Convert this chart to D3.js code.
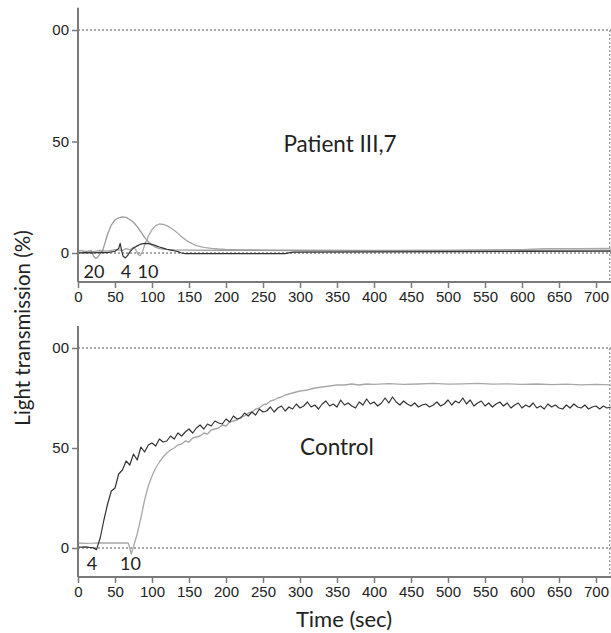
<!DOCTYPE html>
<html><head><meta charset="utf-8">
<script src="https://cdn.jsdelivr.net/npm/d3@7"></script>
<style>body{margin:0;background:#fff}svg{display:block}</style>
</head><body>
<script>
// ---------- data ----------
const xTicks = [0,50,100,150,200,250,300,350,400,450,500,550,600,650,700];
const yTickVals = [0,50,100];
const yTickLabels = ["0","50","00"];

// Patient III,7 (top panel) : [time, %]
const patient20 = [[0,0.5],[5,0.2],[10,0.8],[15,0.3],[18,1.2],[21,-1.5],[24,-2.4],[27,-1.8],[30,-0.2],[33,0.8],[36,4],[40,8.5],[45,12.5],[50,14.8],[55,15.8],[60,16.2],[65,16],[70,15],[75,13.8],[80,11.8],[85,9.5],[90,7],[95,5],[100,3.5],[105,2.6],[110,2],[120,1.6],[130,1.4],[150,1.3],[200,1.2],[300,1.1],[400,1],[500,1.1],[600,1.2],[720,1.3]];
const patient4 = [[0,0],[10,0.2],[20,0.1],[30,0.3],[40,0.2],[50,0.8],[55,2],[57,4.3],[59,1],[61,-1.5],[64,-2.2],[67,-1.2],[70,0.5],[75,2.2],[80,3.2],[85,4],[90,4.3],[95,4.2],[100,3.9],[105,3.3],[110,2.7],[115,2.2],[120,1.7],[125,1.3],[130,1],[135,0.6],[140,0],[145,-0.3],[200,-0.3],[280,-0.3],[290,0.4],[400,0.5],[500,0.6],[600,0.7],[720,0.8]];
const patient10 = [[0,0.8],[5,1.2],[10,0.4],[15,1],[20,0.6],[30,1.2],[40,0.8],[50,1.5],[60,1.2],[65,2],[70,1.4],[75,2.6],[78,1.5],[81,-0.5],[84,-1.2],[87,0.5],[90,3.5],[95,7.5],[100,10.5],[105,12.3],[110,13],[115,12.8],[120,12.3],[125,11.3],[130,10.2],[135,8.8],[140,7.3],[145,6],[150,4.9],[160,3.3],[170,2.5],[180,2.1],[190,1.8],[200,1.6],[220,1.4],[260,1.3],[300,1.3],[400,1.2],[500,1.3],[600,1.5],[630,1.9],[680,2],[720,2.1]];

// Control (bottom panel): agonist 4, sampled every 5 s from 0 s
const control4 = [0.5,0.4,0.6,0.3,0.2,-0.8,5,14,22,28.5,30,37,39,43.5,41.5,47,44,50.5,48,51.5,
52.5,51,54.5,53,53.5,56,54.5,57.5,56,58,59.5,57.5,60,61.5,59.5,62,61,63.5,62.5,62,
64.5,63,66,64.5,65,67.5,66,68,66.5,69.5,68,68.5,70.5,68,70,71,68.5,70.5,69.5,72,
70,71,73,70.5,71.5,69.5,72,73.5,71,72,70.5,74,71.5,72.5,71,70,73,71.5,74.5,72,
73,71,72.5,75,72.5,75.5,73,71.5,73.5,72,71,72.5,70.5,71.5,72,70.5,71.5,73,71,72,
74,71.5,73.5,72.5,75,72,74,71,72.5,73.5,71,72.5,70.5,72,73,71,72.5,70,71.5,72.5,
70,71.5,70.5,72.5,70,71,69.5,72,70.5,71.5,70,69.5,71.5,70,72,70.5,70,71.5,69.5,70.5,
71,69.5,71,70,70.5];
const control10 = [[0,2.5],[10,2.3],[20,2.4],[30,2.6],[40,2.5],[50,2.6],[60,2.5],[68,2.6],[72,-3],[76,2],[80,7],[85,15],[90,24],[95,31],[100,36],[105,40],[110,43],[115,45.5],[120,47.5],[125,49],[130,50],[135,51.5],[140,52],[145,53.5],[150,53],[155,55],[160,55.5],[165,56],[170,57.5],[175,57],[180,59],[185,59.5],[190,60],[195,61.5],[200,61],[205,63],[210,63.5],[215,64],[220,65.5],[225,66],[230,67.5],[235,68],[240,69.5],[245,70],[250,71.5],[255,72],[260,73.5],[265,74],[270,75],[275,75.5],[280,76.5],[290,77.5],[300,78.5],[310,79],[320,80],[330,80.5],[340,81],[350,81.5],[360,81.5],[370,82],[380,81.5],[390,82],[400,81.8],[420,82.2],[440,81.8],[460,82],[480,82.3],[500,81.9],[520,82.1],[540,82.3],[560,81.9],[580,82.1],[600,81.8],[620,82],[640,81.7],[660,81.9],[680,81.6],[700,81.8],[720,81.6]];

// ---------- drawing ----------
const W = 611, H = 633;
const svg = d3.select("body").append("svg").attr("width", W).attr("height", H);
const x = d3.scaleLinear().domain([0,720]).range([78,610.8]);
const yTop = d3.scaleLinear().domain([0,100]).range([253,30]);
const yBot = d3.scaleLinear().domain([0,100]).range([548,348]);
const axisCol = "#7a7a7a";
const tickFont = "'Liberation Sans', Arial, sans-serif";
const txtFont = "Lato, 'Open Sans', sans-serif";

function panel(y, yMin, yMax, series, labels, title, titleX, titleY) {
  const g = svg.append("g");
  [0,100].forEach(v => g.append("line").attr("x1", x(0)).attr("x2", W).attr("y1", y(v)).attr("y2", y(v))
    .attr("stroke","#555").attr("stroke-width",1).attr("stroke-dasharray","2,2"));
  g.append("line").attr("x1", x(720)-1).attr("x2", x(720)-1).attr("y1", y(100)).attr("y2", y(yMin))
    .attr("stroke","#777").attr("stroke-width",1).attr("stroke-dasharray","2,2");
  series.forEach(s => {
    g.append("path").datum(s.data)
      .attr("fill","none").attr("stroke", s.color).attr("stroke-width", s.w)
      .attr("stroke-linejoin","round")
      .attr("d", d3.line().x(d => x(d[0])).y(d => y(d[1])));
  });
  const xa = g.append("g").attr("transform", `translate(0,${y(yMin)})`)
    .call(d3.axisBottom(x).tickValues(xTicks).tickSize(6).tickPadding(3).tickFormat(d3.format("d")));
  xa.select(".domain").attr("d", `M${x(0)},0H${W}`).attr("stroke", axisCol).attr("stroke-width",2);
  xa.selectAll(".tick line").attr("stroke", axisCol).attr("stroke-width",1.5);
  xa.selectAll(".tick text").attr("font-family", tickFont).attr("font-size", 15).attr("fill","#222");
  const ya = g.append("g").attr("transform", `translate(${x(0)},0)`)
    .call(d3.axisLeft(y).tickValues(yTickVals).tickSize(6).tickPadding(3).tickFormat((d,i) => yTickLabels[i]));
  ya.select(".domain").attr("d", `M0,${y(yMax)}V${y(yMin)}`).attr("stroke", axisCol).attr("stroke-width",2);
  ya.selectAll(".tick line").attr("stroke", axisCol).attr("stroke-width",1.5);
  ya.selectAll(".tick text").attr("font-family", tickFont).attr("font-size", 15).attr("fill","#222");
  labels.forEach(l => g.append("text").attr("x", x(l.t)).attr("y", l.y).attr("text-anchor","middle")
    .attr("font-family", txtFont).attr("font-size", 18).attr("fill","#222").text(l.text));
  g.append("text").attr("x", titleX).attr("y", titleY).attr("text-anchor","middle")
    .attr("font-family", txtFont).attr("font-size", 22.5).attr("fill","#222").text(title);
}

panel(yTop, -13, 110, [
  {data: patient10, color:"#a8a8a8", w:1.3},
  {data: patient20, color:"#999", w:1.3},
  {data: patient4, color:"#333", w:1.2}
], [{t:21.6,text:"20",y:278},{t:65,text:"4",y:278},{t:94.5,text:"10",y:278}], "Patient III,7", 340, 152);

panel(yBot, -14.5, 111, [
  {data: control10, color:"#a8a8a8", w:1.3},
  {data: control4.map((v,i) => [i*5, v]), color:"#333", w:1.2}
], [{t:19,text:"4",y:570},{t:71,text:"10",y:570}], "Control", 337, 455);

svg.append("text").attr("x", 344).attr("y", 627).attr("text-anchor","middle")
  .attr("font-family", txtFont).attr("font-size", 22).attr("fill","#222").text("Time (sec)");
svg.append("text").attr("transform","translate(30,328) rotate(-90)").attr("text-anchor","middle")
  .attr("font-family", txtFont).attr("font-size", 20.5).attr("fill","#222").text("Light transmission (%)");
</script>
</body></html>
